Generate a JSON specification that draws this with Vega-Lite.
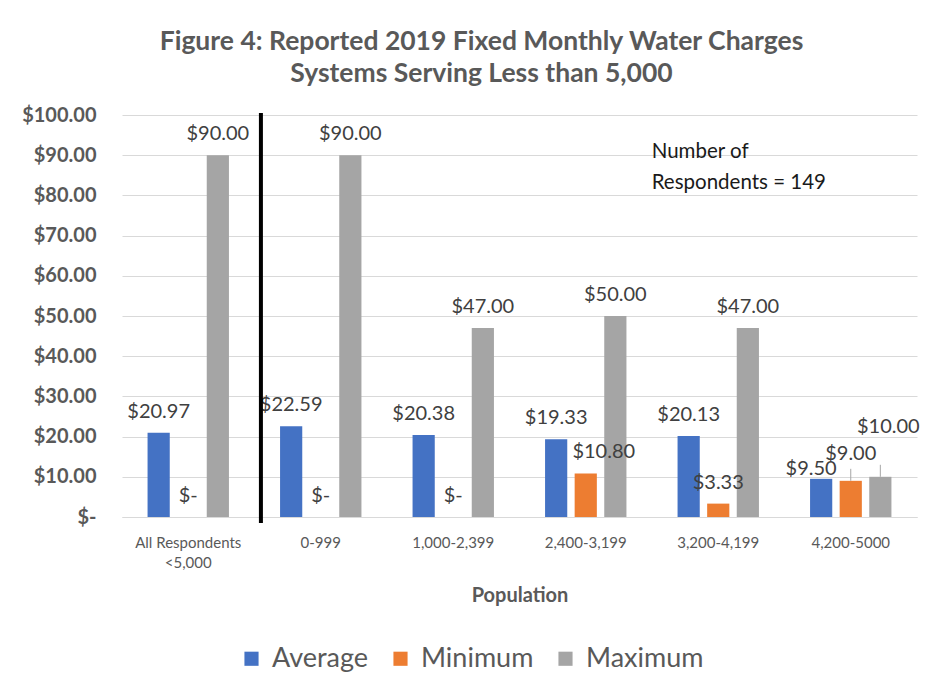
{
  "$schema": "https://vega.github.io/schema/vega-lite/v6.json",
  "width": 795,
  "height": 402,
  "autosize": {"type": "none"},
  "padding": {"left": 122, "top": 115, "right": 20, "bottom": 176},
  "background": "white",
  "config": {
    "font": "Lato",
    "view": {"stroke": null}
  },
  "title": {
    "text": ["Figure 4: Reported 2019 Fixed Monthly Water Charges", "Systems Serving Less than 5,000"],
    "fontSize": 26.5,
    "fontWeight": "bold",
    "color": "#595959",
    "lineHeight": 32,
    "anchor": "middle",
    "dx": -38,
    "offset": 18
  },
  "data": {
    "values": [
      {"Population": "All Respondents <5,000", "Series": "Average", "Value": 20.97},
      {"Population": "All Respondents <5,000", "Series": "Minimum", "Value": 0},
      {"Population": "All Respondents <5,000", "Series": "Maximum", "Value": 90},
      {"Population": "0-999", "Series": "Average", "Value": 22.59},
      {"Population": "0-999", "Series": "Minimum", "Value": 0},
      {"Population": "0-999", "Series": "Maximum", "Value": 90},
      {"Population": "1,000-2,399", "Series": "Average", "Value": 20.38},
      {"Population": "1,000-2,399", "Series": "Minimum", "Value": 0},
      {"Population": "1,000-2,399", "Series": "Maximum", "Value": 47},
      {"Population": "2,400-3,199", "Series": "Average", "Value": 19.33},
      {"Population": "2,400-3,199", "Series": "Minimum", "Value": 10.8},
      {"Population": "2,400-3,199", "Series": "Maximum", "Value": 50},
      {"Population": "3,200-4,199", "Series": "Average", "Value": 20.13},
      {"Population": "3,200-4,199", "Series": "Minimum", "Value": 3.33},
      {"Population": "3,200-4,199", "Series": "Maximum", "Value": 47},
      {"Population": "4,200-5000", "Series": "Average", "Value": 9.5},
      {"Population": "4,200-5000", "Series": "Minimum", "Value": 9},
      {"Population": "4,200-5000", "Series": "Maximum", "Value": 10}
    ]
  },
  "encoding": {
    "x": {
      "field": "Population",
      "type": "nominal",
      "sort": null,
      "scale": {"paddingInner": 0.33, "paddingOuter": 0.165},
      "axis": {
        "title": "Population",
        "labelAngle": 0,
        "labelFontSize": 15,
        "labelColor": "#595959",
        "labelPadding": 18,
        "labelLineHeight": 20,
        "labelExpr": "datum.value == 'All Respondents <5,000' ? ['All Respondents', '<5,000'] : datum.label",
        "ticks": false,
        "domainColor": "#D9D9D9",
        "titleFontSize": 20,
        "titleFontWeight": "bold",
        "titleColor": "#595959",
        "titlePadding": 15
      }
    },
    "y": {
      "field": "Value",
      "type": "quantitative",
      "scale": {"domain": [0, 100], "nice": false},
      "axis": {
        "title": null,
        "values": [0, 10, 20, 30, 40, 50, 60, 70, 80, 90, 100],
        "labelExpr": "datum.value == 0 ? '$-' : '$' + format(datum.value, '.2f')",
        "labelFontSize": 20,
        "labelFontWeight": "bold",
        "labelColor": "#595959",
        "labelPadding": 26,
        "ticks": false,
        "domain": false,
        "gridColor": "#D9D9D9",
        "gridWidth": 1.2
      }
    }
  },
  "layer": [
    {
      "mark": {"type": "bar"},
      "encoding": {
        "xOffset": {
          "field": "Series",
          "type": "nominal",
          "sort": ["Average", "Minimum", "Maximum"],
          "scale": {"paddingInner": 0.25, "paddingOuter": 0.125}
        },
        "color": {
          "field": "Series",
          "type": "nominal",
          "sort": ["Average", "Minimum", "Maximum"],
          "scale": {"domain": ["Average", "Minimum", "Maximum"], "range": ["#4472C4", "#ED7D31", "#A5A5A5"]},
          "legend": {
            "title": null,
            "orient": "none",
            "direction": "horizontal",
            "legendX": 116,
            "legendY": 530,
            "symbolType": "square",
            "symbolSize": 200,
            "symbolStrokeWidth": 0,
            "labelFontSize": 27,
            "labelColor": "#595959",
            "labelOffset": 7,
            "columnPadding": 18
          }
        }
      }
    },
    {
      "transform": [
        {"filter": "datum.Population != '4,200-5000' && !(datum.Population == '2,400-3,199' && datum.Series == 'Minimum')"},
        {"calculate": "datum.Value == 0 ? '$-' : '$' + format(datum.Value, '.2f')", "as": "Label"}
      ],
      "mark": {"type": "text", "fontSize": 20, "color": "#404040", "baseline": "middle", "dy": -21},
      "encoding": {
        "xOffset": {"field": "Series", "type": "nominal", "sort": ["Average", "Minimum", "Maximum"]},
        "text": {"field": "Label"}
      }
    },
    {
      "transform": [
        {"filter": "datum.Population == '2,400-3,199' && datum.Series == 'Minimum'"},
        {"calculate": "'$' + format(datum.Value, '.2f')", "as": "Label"}
      ],
      "mark": {"type": "text", "fontSize": 20, "color": "#404040", "baseline": "middle", "dx": 18, "dy": -22},
      "encoding": {
        "xOffset": {"field": "Series", "type": "nominal", "sort": ["Average", "Minimum", "Maximum"]},
        "text": {"field": "Label"}
      }
    },
    {
      "transform": [
        {"filter": "datum.Population == '4,200-5000' && datum.Series == 'Average'"},
        {"calculate": "'$' + format(datum.Value, '.2f')", "as": "Label"}
      ],
      "mark": {"type": "text", "fontSize": 20, "color": "#404040", "baseline": "middle", "dx": -10, "dy": -10},
      "encoding": {
        "xOffset": {"field": "Series", "type": "nominal", "sort": ["Average", "Minimum", "Maximum"]},
        "text": {"field": "Label"}
      }
    },
    {
      "transform": [
        {"filter": "datum.Population == '4,200-5000' && datum.Series == 'Minimum'"},
        {"calculate": "'$' + format(datum.Value, '.2f')", "as": "Label"}
      ],
      "mark": {"type": "text", "fontSize": 20, "color": "#404040", "baseline": "middle", "dy": -27},
      "encoding": {
        "xOffset": {"field": "Series", "type": "nominal", "sort": ["Average", "Minimum", "Maximum"]},
        "text": {"field": "Label"}
      }
    },
    {
      "transform": [
        {"filter": "datum.Population == '4,200-5000' && datum.Series == 'Maximum'"},
        {"calculate": "'$' + format(datum.Value, '.2f')", "as": "Label"}
      ],
      "mark": {"type": "text", "fontSize": 20, "color": "#404040", "baseline": "middle", "dx": 8, "dy": -50},
      "encoding": {
        "xOffset": {"field": "Series", "type": "nominal", "sort": ["Average", "Minimum", "Maximum"]},
        "text": {"field": "Label"}
      }
    },
    {
      "transform": [{"filter": "datum.Population == '4,200-5000' && datum.Series != 'Average'"}],
      "mark": {"type": "rule", "color": "#A6A6A6", "strokeWidth": 1, "y2Offset": -12},
      "encoding": {
        "xOffset": {"field": "Series", "type": "nominal", "sort": ["Average", "Minimum", "Maximum"]},
        "y2": {"field": "Value"}
      }
    },
    {
      "transform": [{"filter": "datum.Population == '0-999' && datum.Series == 'Average'"}],
      "mark": {"type": "rule", "color": "#000000", "strokeWidth": 4},
      "encoding": {
        "x": {"field": "Population", "type": "nominal", "bandPosition": -0.174},
        "y": {"datum": 100.5, "type": "quantitative"},
        "y2": {"datum": -1.5}
      }
    },
    {
      "transform": [{"filter": "datum.Population == '3,200-4,199' && datum.Series == 'Average'"}],
      "mark": {"type": "text", "fontSize": 20.5, "color": "#1a1a1a", "align": "left", "baseline": "top", "lineHeight": 31},
      "encoding": {
        "x": {"field": "Population", "type": "nominal", "bandPosition": -0.25},
        "y": {"datum": 93.3, "type": "quantitative"},
        "text": {"value": ["Number of", "Respondents = 149"]}
      }
    }
  ]
}
